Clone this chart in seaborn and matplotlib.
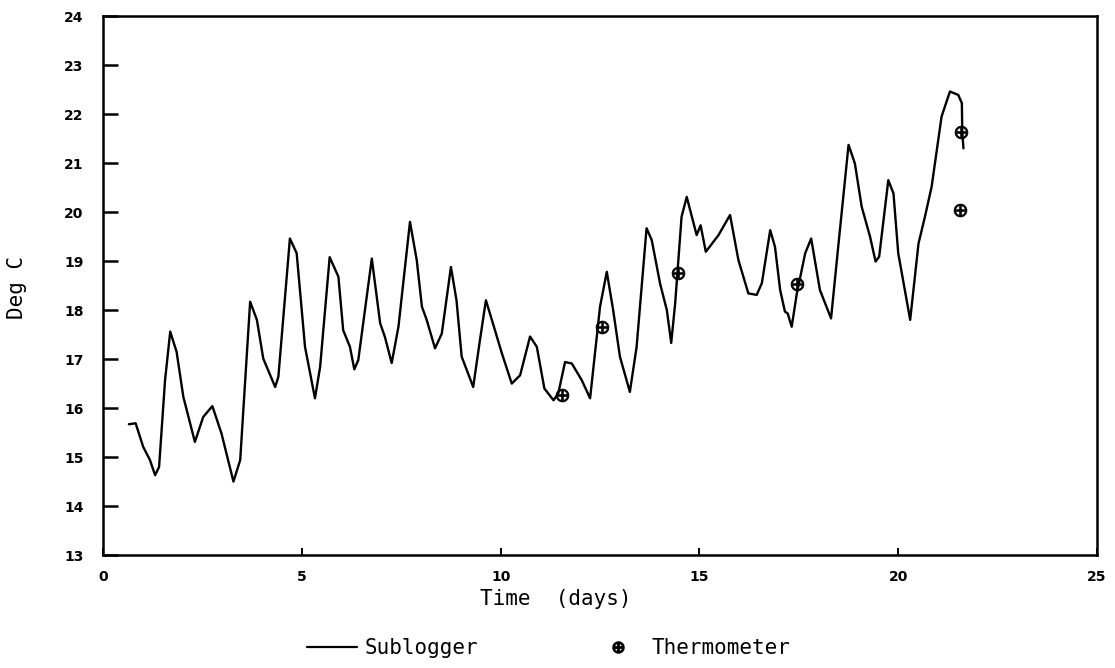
import seaborn as sns
import pandas as pd
import matplotlib.pyplot as plt
from matplotlib.lines import Line2D

# sublogger trace
time_days = [0.65, 0.82, 1.01, 1.18, 1.31, 1.41, 1.56, 1.69, 1.85, 2.02,
             2.31, 2.52, 2.75, 2.98, 3.28, 3.45, 3.70, 3.87, 4.03, 4.33,
             4.41, 4.70, 4.87, 5.08, 5.33, 5.46, 5.70, 5.92, 6.04, 6.21,
             6.32, 6.42, 6.76, 6.97, 7.09, 7.26, 7.43, 7.72, 7.89, 8.02,
             8.14, 8.35, 8.52, 8.75, 8.89, 9.02, 9.31, 9.48, 9.63, 9.82,
             10.03, 10.28, 10.49, 10.74, 10.91, 11.10, 11.33, 11.45, 11.62, 11.79,
             12.04, 12.25, 12.50, 12.67, 12.83, 13.00, 13.25, 13.42, 13.67, 13.80,
             14.01, 14.18, 14.29, 14.39, 14.55, 14.68, 14.93, 15.03, 15.16, 15.48,
             15.77, 15.98, 16.23, 16.44, 16.57, 16.78, 16.90, 17.03, 17.15, 17.22,
             17.32, 17.45, 17.66, 17.81, 18.03, 18.31, 18.49, 18.75, 18.91, 19.08,
             19.29, 19.43, 19.52, 19.75, 19.88, 20.00, 20.30, 20.51, 20.67, 20.84,
             21.09, 21.30, 21.51, 21.60, 21.61, 21.64]
sublogger = [15.67, 15.69, 15.21, 14.94, 14.63, 14.80, 16.57, 17.56, 17.15, 16.23,
             15.31, 15.82, 16.04, 15.48, 14.50, 14.94, 18.17, 17.80, 17.01, 16.43,
             16.64, 19.46, 19.16, 17.25, 16.20, 16.84, 19.08, 18.68, 17.59, 17.25,
             16.79, 16.98, 19.05, 17.73, 17.45, 16.92, 17.66, 19.80, 19.02, 18.07,
             17.80, 17.22, 17.52, 18.88, 18.20, 17.05, 16.43, 17.39, 18.20, 17.69,
             17.12, 16.50, 16.67, 17.46, 17.25, 16.40, 16.16, 16.30, 16.94, 16.91,
             16.57, 16.20, 18.07, 18.78, 18.00, 17.05, 16.33, 17.25, 19.67, 19.43,
             18.54, 18.00, 17.33, 18.14, 19.90, 20.31, 19.53, 19.73, 19.19, 19.53,
             19.94, 19.02, 18.34, 18.31, 18.55, 19.63, 19.29, 18.41, 17.97, 17.93,
             17.66, 18.34, 19.16, 19.46, 18.41, 17.83, 19.29, 21.37, 20.99, 20.11,
             19.50, 18.99, 19.09, 20.65, 20.38, 19.16, 17.80, 19.36, 19.90, 20.52,
             21.95, 22.46, 22.39, 22.22, 21.64, 21.30]

# spot readings
thermo_days = [11.54, 12.54, 14.47, 17.45, 21.55, 21.58]
thermometer = [16.27, 17.66, 18.75, 18.53, 20.04, 21.64]

x_ticks = [0, 5, 10, 15, 20, 25]
y_ticks = list(range(13, 25))

sns.set_style("white")
plt.rcParams['font.family'] = ['DejaVu Sans']

logger_df = pd.DataFrame({"time": time_days, "temp": sublogger})
thermo_df = pd.DataFrame({"time": thermo_days, "temp": thermometer})

fig = plt.figure(figsize=(11.15, 6.68), dpi=100)
ax = fig.add_axes([0.0924, 0.169, 0.8915, 0.807])

sns.lineplot(data=logger_df, x="time", y="temp", color="black", linewidth=1.7,
             ax=ax, sort=False)
sns.scatterplot(data=thermo_df, x="time", y="temp", marker=r"$\oplus$", s=85,
                color="black", edgecolor="black", linewidth=0.6, ax=ax)

ax.set_xlim(0, 25)
ax.set_ylim(13, 24)
ax.set_xticks(x_ticks)
ax.set_yticks(y_ticks)
ax.tick_params(axis="y", left=True, direction="in", length=11, width=1.8,
               pad=14, labelsize=10, color="black", labelcolor="black")
ax.tick_params(axis="x", bottom=True, direction="in", length=5, width=1.4,
               pad=11, labelsize=10, color="black", labelcolor="black")
for lab in ax.get_xticklabels() + ax.get_yticklabels():
    lab.set_fontweight("bold")
for sp in ax.spines.values():
    sp.set_linewidth(1.8)
    sp.set_color("black")

ax.set_xlabel("Time  (days)", fontsize=15, family="DejaVu Sans Mono",
              color="black")
ax.xaxis.set_label_coords(0.455, -0.062)
ax.set_ylabel("Deg C", fontsize=15, family="DejaVu Sans Mono", color="black")
ax.yaxis.set_label_coords(-0.076, 0.497)

handles = [Line2D([], [], color="black", linewidth=1.6),
           Line2D([], [], color="black", linestyle="none", marker=r"$\oplus$",
                  markersize=8)]
leg = fig.legend(handles, ["Sublogger", "Thermometer"], loc="center",
                 bbox_to_anchor=(0.492, 0.03), ncol=2, frameon=False,
                 handlelength=2.4, handletextpad=0.4, columnspacing=5.5,
                 prop={"family": "DejaVu Sans Mono", "size": 15})
for t in leg.get_texts():
    t.set_color("black")

fig.savefig("out.png", dpi=100)
